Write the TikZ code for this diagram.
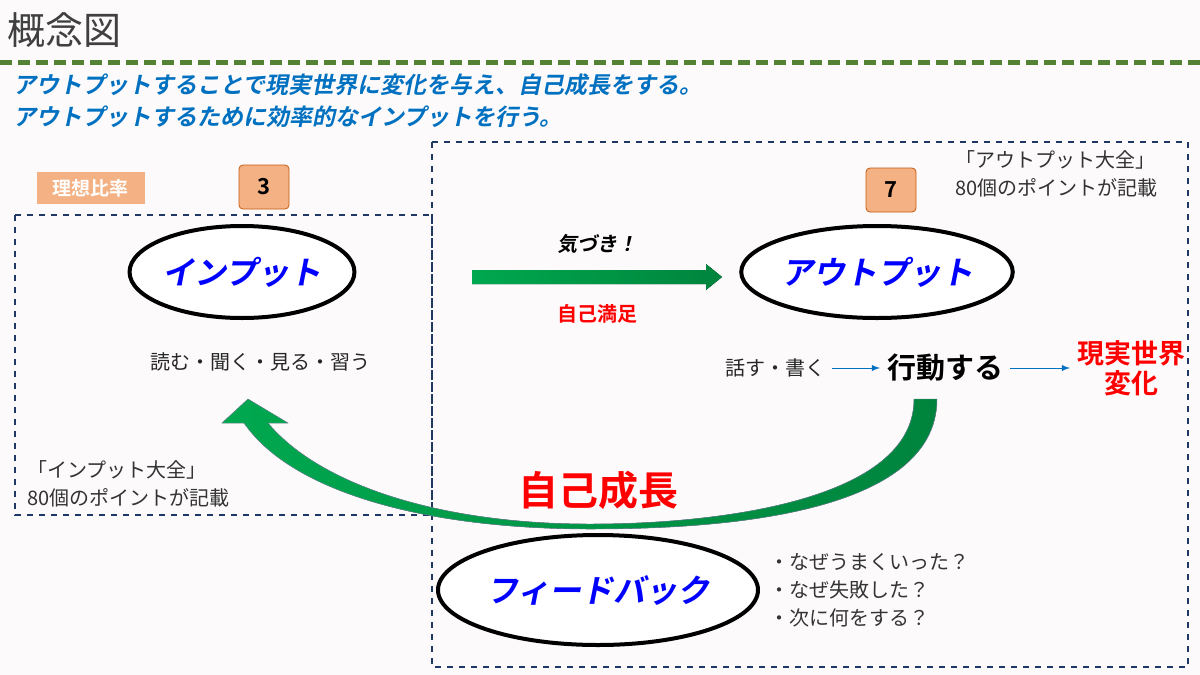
\documentclass[tikz,border=0pt]{standalone}
\usepackage{fontspec}
\setmainfont{Noto Sans CJK JP}[BoldFont={Noto Sans CJK JP Bold},ItalicFont={Noto Sans CJK JP},ItalicFeatures={FakeSlant=0.2},BoldItalicFont={Noto Sans CJK JP Bold},BoldItalicFeatures={FakeSlant=0.2}]
\usetikzlibrary{positioning,shapes.geometric}
\definecolor{bgpink}{HTML}{FCFAFB}
\definecolor{titlegreen}{HTML}{548235}
\definecolor{headblue}{HTML}{0070C0}
\definecolor{navy}{HTML}{203864}
\definecolor{ratio}{HTML}{F4B183}
\definecolor{ratioline}{HTML}{C55A11}
\definecolor{arrowgreen}{HTML}{00A84F}
\definecolor{arrowdark}{HTML}{00843D}
\definecolor{wordblue}{HTML}{0000FF}
\tikzset{
  main ellipse/.style={ellipse,draw=black,line width=2pt,fill=white,inner sep=0pt,font=\fontsize{16}{18}\selectfont\bfseries\itshape,text=wordblue},
  ratio box/.style={rounded corners=2pt,draw=ratioline,fill=ratio,minimum width=25pt,minimum height=22pt,font=\fontsize{11}{13}\selectfont\bfseries},
  frame box/.style={draw=navy,dashed,line width=0.6pt},
  note/.style={align=left,font=\fontsize{10}{14}\selectfont,text=black!80},
  small arrow/.style={-latex,draw=headblue,line width=0.4pt}
}
\begin{document}
\begin{tikzpicture}[x=0.5pt,y=-0.5pt]
  \fill[bgpink] (0,0) rectangle (1200,675);
  \useasboundingbox (0,0) rectangle (1200,675);

  \node[anchor=west,text=black!75,font=\fontsize{19}{21}\selectfont] (title) at (0,30) {概念図};
  \draw[titlegreen,line width=2.5pt,dash pattern=on 6pt off 3pt] (0,62) -- (1200,62);
  \node[anchor=west,align=left,text=headblue,font=\fontsize{11.5}{16}\selectfont\bfseries\itshape] (lead) at (6,101)
    {アウトプットすることで現実世界に変化を与え、自己成長をする。\\アウトプットするために効率的なインプットを行う。};

  % frames
  \draw[frame box] (15,215) rectangle (432,515);
  \draw[frame box] (432,142) rectangle (1188,667);

  \node[fill=ratio,text=white,font=\fontsize{9.5}{11}\selectfont\bfseries,minimum width=54pt,minimum height=16pt] (ratiolabel) at (91,188) {理想比率};
  \node[ratio box] (three) at (264,187) {3};
  \node[ratio box] (seven) at (891,190) {7};

  % main ellipses
  \node[main ellipse,minimum width=110pt,minimum height=46pt] (input) at (242,272) {インプット};
  \node[main ellipse,minimum width=122pt,minimum height=46pt] (output) at (877,272) {アウトプット};

  % straight arrow
  \fill[left color=arrowgreen,right color=arrowdark] (472,270) -- (706,270) -- (706,264) -- (722,277) -- (706,290) -- (706,284) -- (472,284) -- cycle;
  \coordinate (mid) at (597,277);
  \node[font=\fontsize{10}{11}\selectfont\bfseries\itshape] (notice) [above=8pt of mid] {気づき！};
  \node[text=red,font=\fontsize{10}{11}\selectfont\bfseries] (selfsat) [below=10pt of mid] {自己満足};

  \node[font=\fontsize{10}{11}\selectfont,text=black!85] (inverbs) at (260,362) {読む・聞く・見る・習う};
  \node[font=\fontsize{10}{11}\selectfont,text=black!85] (outverbs) at (775,368) {話す・書く};
  \node[font=\fontsize{14.5}{16}\selectfont\bfseries] (act) at (945,368) {行動する};
  \node[align=center,text=red,font=\fontsize{13.5}{15}\selectfont\bfseries] (world) at (1131,368) {現実世界\\変化};
  \draw[small arrow] (outverbs) -- (act);
  \draw[small arrow] (act) -- (world);

  % curved arrow
  \fill[left color=arrowgreen,right color=arrowdark,draw=navy!60,line width=0.2pt]
    (914,399) -- (937,399) .. controls (937,520) and (700,529) .. (590,529)
    .. controls (420,529) and (290,490) .. (244,423) -- (222,423) -- (248,399) -- (288,423) -- (268,423)
    .. controls (320,485) and (440,524) .. (590,524)
    .. controls (720,524) and (914,500) .. (914,399) -- cycle;
  \node[text=red,font=\fontsize{20}{22}\selectfont\bfseries] (growth) at (598,490) {自己成長};

  \node[main ellipse,minimum width=160pt,minimum height=55pt] (feedback) at (598,590) {フィードバック};
  \node[note,anchor=west] (why) at (762,590) {・なぜうまくいった？\\・なぜ失敗した？\\・次に何をする？};

  \node[note,anchor=west] (inbook) at (20,484) {「インプット大全」\\80個のポイントが記載};
  \node[note,anchor=west] (outbook) at (948,174) {「アウトプット大全」\\80個のポイントが記載};
\end{tikzpicture}
\end{document}
